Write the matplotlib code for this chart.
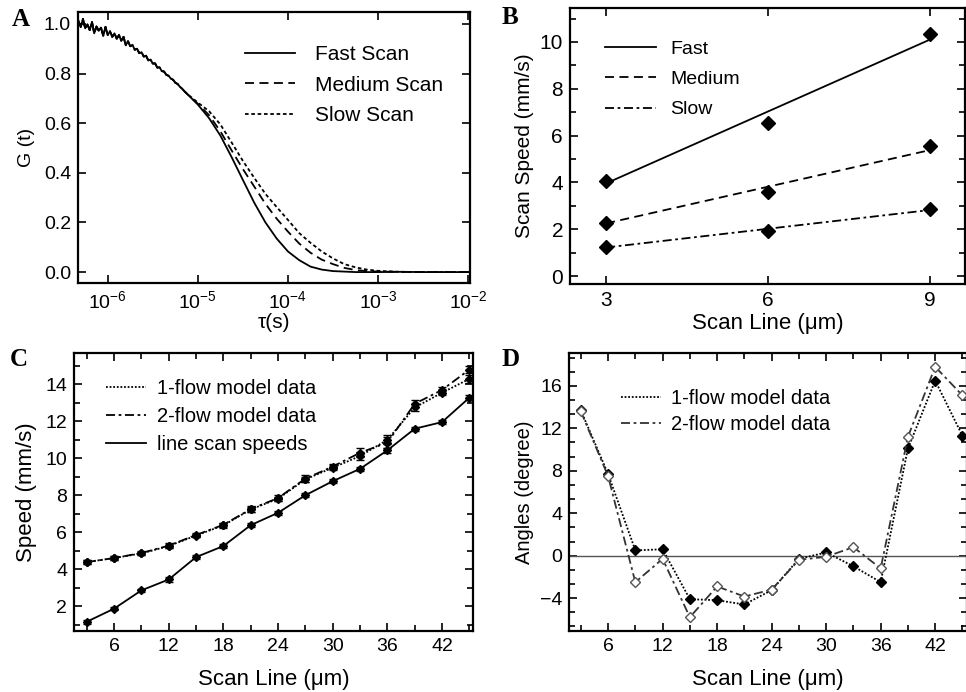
import matplotlib
matplotlib.use("Agg")
import matplotlib.pyplot as plt
from matplotlib.ticker import MultipleLocator, FixedLocator, NullLocator, FormatStrFormatter, LogFormatterSciNotation

plt.rcParams['font.family'] = ['Liberation Sans', 'DejaVu Sans']
plt.rcParams['mathtext.fontset'] = 'custom'
plt.rcParams['mathtext.rm'] = 'Liberation Sans'
plt.rcParams['mathtext.it'] = 'Liberation Sans'
plt.rcParams['mathtext.default'] = 'regular'

# ---------------- Panel A data ----------------
logtau_early = [-6.325, -6.300, -6.275, -6.250, -6.225, -6.200, -6.175, -6.150, -6.125, -6.100,
                -6.075, -6.050, -6.025, -6.000, -5.975, -5.950, -5.925, -5.900, -5.875, -5.850,
                -5.825, -5.800, -5.775, -5.750, -5.725, -5.700, -5.675, -5.650, -5.625, -5.600,
                -5.575, -5.550, -5.525, -5.500, -5.475, -5.450, -5.425, -5.400, -5.375, -5.350,
                -5.325, -5.300, -5.275, -5.250, -5.225, -5.200, -5.175, -5.150, -5.125]
G_early = [1.012, 0.988, 1.020, 0.982, 0.998, 0.975, 1.008, 0.962, 0.990, 0.972,
           0.985, 0.952, 0.988, 0.955, 0.970, 0.948, 0.962, 0.940, 0.955, 0.932,
           0.948, 0.914, 0.930, 0.910, 0.915, 0.896, 0.900, 0.882, 0.886, 0.868,
           0.872, 0.853, 0.856, 0.840, 0.841, 0.824, 0.825, 0.810, 0.808, 0.795,
           0.791, 0.780, 0.775, 0.763, 0.758, 0.747, 0.739, 0.729, 0.720]
logtau_late = [-5.125, -5.0, -4.875, -4.75, -4.625, -4.5, -4.375, -4.25, -4.125, -4.0,
               -3.875, -3.75, -3.625, -3.5, -3.375, -3.25, -3.125, -3.0, -2.75, -2.5, -2.25, -2.0]
G_fast = [0.720, 0.675, 0.620, 0.550, 0.463, 0.371, 0.280, 0.200, 0.135, 0.083,
          0.048, 0.022, 0.010, 0.004, 0.002, 0.000, 0.000, 0.000, 0.001, 0.000, 0.000, 0.000]
G_medium = [0.720, 0.678, 0.632, 0.567, 0.490, 0.415, 0.345, 0.275, 0.215, 0.163,
            0.115, 0.078, 0.050, 0.032, 0.017, 0.008, 0.004, 0.002, 0.001, 0.000, 0.000, 0.000]
G_slow = [0.720, 0.683, 0.648, 0.595, 0.522, 0.448, 0.380, 0.315, 0.262, 0.210,
          0.157, 0.118, 0.083, 0.055, 0.032, 0.019, 0.010, 0.005, 0.001, 0.000, 0.000, 0.000]
labels_A = ["Fast Scan", "Medium Scan", "Slow Scan"]

# ---------------- Panel B data ----------------
scan_line_B = [3, 6, 9]
fast_pts = [4.05, 6.55, 10.35]
medium_pts = [2.27, 3.6, 5.55]
slow_pts = [1.22, 1.93, 2.86]
fit_x = [3, 9]
fast_fit = [3.96, 10.1]
medium_fit = [2.25, 5.38]
slow_fit = [1.22, 2.82]
labels_B = ["Fast", "Medium", "Slow"]

# ---------------- Panel C data ----------------
scan_line_C = [3, 6, 9, 12, 15, 18, 21, 24, 27, 30, 33, 36, 39, 42, 45]
flow1_speed = [4.38, 4.6, 4.85, 5.25, 5.82, 6.37, 7.23, 7.81, 8.86, 9.49, 10.12, 11.0, 12.75, 13.55, 14.3]
flow2_speed = [4.38, 4.6, 4.87, 5.27, 5.85, 6.4, 7.25, 7.85, 8.9, 9.55, 10.3, 10.85, 12.95, 13.7, 14.8]
line_speed = [1.15, 1.86, 2.85, 3.44, 4.65, 5.25, 6.38, 7.05, 8.0, 8.76, 9.43, 10.43, 11.6, 11.96, 13.28]
flow1_err = [0.1, 0.1, 0.1, 0.1, 0.1, 0.12, 0.12, 0.12, 0.15, 0.15, 0.2, 0.25, 0.2, 0.15, 0.2]
flow2_err = [0.1, 0.1, 0.12, 0.12, 0.12, 0.12, 0.15, 0.15, 0.2, 0.15, 0.25, 0.3, 0.2, 0.15, 0.2]
line_err = [0.1, 0.1, 0.1, 0.12, 0.12, 0.1, 0.12, 0.1, 0.1, 0.1, 0.12, 0.12, 0.1, 0.1, 0.15]
labels_C = ["1-flow model data", "2-flow model data", "line scan speeds"]

# ---------------- Panel D data ----------------
scan_line_D = [3, 6, 9, 12, 15, 18, 21, 24, 27, 30, 33, 36, 39, 42, 45]
flow1_angle = [13.7, 7.7, 0.5, 0.6, -4.1, -4.2, -4.6, -3.25, -0.3, 0.3, -1.0, -2.5, 10.1, 16.5, 11.3]
flow2_angle = [13.6, 7.5, -2.5, -0.3, -5.8, -2.9, -3.85, -3.2, -0.4, -0.1, 0.8, -1.2, 11.2, 17.8, 15.1]
labels_D = ["1-flow model data", "2-flow model data"]

W, H = 966, 692
fig = plt.figure(figsize=(W / 100, H / 100), dpi=100)


def px_axes(l, t, r, b):
    return fig.add_axes([l / W, 1 - b / H, (r - l) / W, (b - t) / H])


def style(ax, lab):
    for s in ax.spines.values():
        s.set_linewidth(1.6)
    ax.tick_params(which='both', direction='in', top=True, right=True, width=1.2)
    ax.tick_params(which='major', length=6, labelsize=lab, pad=5)
    ax.tick_params(which='minor', length=4)


lw = 1.3
dashdot = (0, (5, 2, 1.5, 2))

# ---- A ----
axA = px_axes(78, 12, 470, 283)
tau_early = [10 ** v for v in logtau_early]
tau_late = [10 ** v for v in logtau_late]
styles_A = [dict(ls='-'), dict(ls=(0, (5, 3))), dict(ls=(0, (2, 1.5)))]
for G, st, lab in zip([G_fast, G_medium, G_slow], styles_A, labels_A):
    axA.plot(tau_early + tau_late[1:], G_early + G[1:], color='black', lw=lw, label=lab, **st)
axA.set_xscale('log')
axA.set_xlim(10 ** -6.33, 10 ** -1.98)
axA.set_ylim(-0.044, 1.048)
axA.xaxis.set_major_locator(FixedLocator([1e-6, 1e-5, 1e-4, 1e-3, 1e-2]))
axA.xaxis.set_minor_locator(NullLocator())
axA.xaxis.set_major_formatter(LogFormatterSciNotation())
axA.yaxis.set_major_locator(MultipleLocator(0.2))
axA.yaxis.set_major_formatter(FormatStrFormatter('%.1f'))
style(axA, 14)
axA.set_xlabel('τ(s)', fontsize=15, labelpad=1)
axA.set_ylabel('G (t)', fontsize=14, labelpad=6)
axA.legend(loc='upper left', bbox_to_anchor=(0.425, 0.878), frameon=False, fontsize=15,
           handlelength=2.4, handletextpad=1.0, labelspacing=0.55, borderpad=0, borderaxespad=0)

# ---- B ----
axB = px_axes(570, 8, 965, 284)
axB.plot(fit_x, fast_fit, color='black', lw=lw, ls='-', label=labels_B[0])
axB.plot(fit_x, medium_fit, color='black', lw=lw, ls=(0, (5, 3)), label=labels_B[1])
axB.plot(fit_x, slow_fit, color='black', lw=lw, ls=dashdot, label=labels_B[2])
for pts in (fast_pts, medium_pts, slow_pts):
    axB.plot(scan_line_B, pts, ls='none', marker='D', ms=7, color='black')
axB.set_xlim(2.33, 9.65)
axB.set_ylim(-0.34, 11.45)
axB.xaxis.set_major_locator(FixedLocator(scan_line_B))
axB.yaxis.set_major_locator(MultipleLocator(2))
axB.yaxis.set_minor_locator(MultipleLocator(1))
style(axB, 15)
axB.set_xlabel('Scan Line (μm)', fontsize=16, labelpad=2)
axB.set_ylabel('Scan Speed (mm/s)', fontsize=15, labelpad=4)
axB.legend(loc='upper left', bbox_to_anchor=(0.089, 0.883), frameon=False, fontsize=14,
           handlelength=2.6, handletextpad=0.75, labelspacing=0.65, borderpad=0, borderaxespad=0)

# ---- C ----
axC = px_axes(74, 353, 473, 631)
axC.errorbar(scan_line_C, flow1_speed, yerr=flow1_err, color='black', lw=lw, ls=(0, (1, 1)),
             marker='D', ms=4.5, capsize=3, elinewidth=1, label=labels_C[0])
axC.errorbar(scan_line_C, flow2_speed, yerr=flow2_err, color='black', lw=lw, ls=dashdot,
             marker='D', ms=4.5, capsize=3, elinewidth=1, label=labels_C[1])
axC.errorbar(scan_line_C, line_speed, yerr=line_err, color='black', lw=lw, ls='-',
             marker='D', ms=4.5, capsize=3, elinewidth=1, label=labels_C[2])
axC.set_xlim(1.6, 45.4)
axC.set_ylim(0.65, 15.7)
axC.xaxis.set_major_locator(FixedLocator([6, 12, 18, 24, 30, 36, 42]))
axC.xaxis.set_minor_locator(MultipleLocator(3))
axC.yaxis.set_major_locator(MultipleLocator(2))
axC.yaxis.set_minor_locator(MultipleLocator(1))
style(axC, 14)
axC.set_xlabel('Scan Line (μm)', fontsize=16, labelpad=10)
axC.set_ylabel('Speed (mm/s)', fontsize=16, labelpad=6)
hC, lC = axC.get_legend_handles_labels()
hC = [h.lines[0] if hasattr(h, 'lines') else h for h in hC]
axC.legend(hC, lC, loc='upper left', bbox_to_anchor=(0.08, 0.907), frameon=False, fontsize=14.5,
           handlelength=2.0, handletextpad=0.55, labelspacing=0.45, borderpad=0, borderaxespad=0,
           markerscale=0)

# ---- D ----
axD = px_axes(569, 353, 967, 631)
axD.axhline(0, color='#555555', lw=1.0)
axD.plot(scan_line_D, flow1_angle, color='black', lw=lw, ls=(0, (1, 1)), marker='D', ms=5,
         mfc='black', label=labels_D[0])
axD.plot(scan_line_D, flow2_angle, color='#333333', lw=lw, ls=dashdot, marker='D', ms=5,
         mfc='white', mec='#555555', label=labels_D[1])
axD.set_xlim(1.7, 45.5)
axD.set_ylim(-7.1, 19.1)
axD.xaxis.set_major_locator(FixedLocator([6, 12, 18, 24, 30, 36, 42]))
axD.xaxis.set_minor_locator(MultipleLocator(3))
axD.yaxis.set_major_locator(MultipleLocator(4))
axD.yaxis.set_minor_locator(MultipleLocator(4 / 3))
style(axD, 14)
axD.set_xlabel('Scan Line (μm)', fontsize=16, labelpad=10)
axD.set_ylabel('Angles (degree)', fontsize=14.5, labelpad=4)
hD, lD = axD.get_legend_handles_labels()
axD.legend(hD, lD, loc='upper left', bbox_to_anchor=(0.13, 0.869), frameon=False, fontsize=14.5,
           handlelength=2.0, handletextpad=0.5, labelspacing=0.35, borderpad=0, borderaxespad=0,
           markerscale=0)

# panel letters
for txt, x, y in [('A', 12, 20), ('B', 502, 17), ('C', 10, 360), ('D', 502, 360)]:
    fig.text(x / W, 1 - y / H, txt, fontsize=18, fontweight='bold', family='Liberation Serif',
             va='center', ha='left')

fig.savefig('out.png', dpi=100)
